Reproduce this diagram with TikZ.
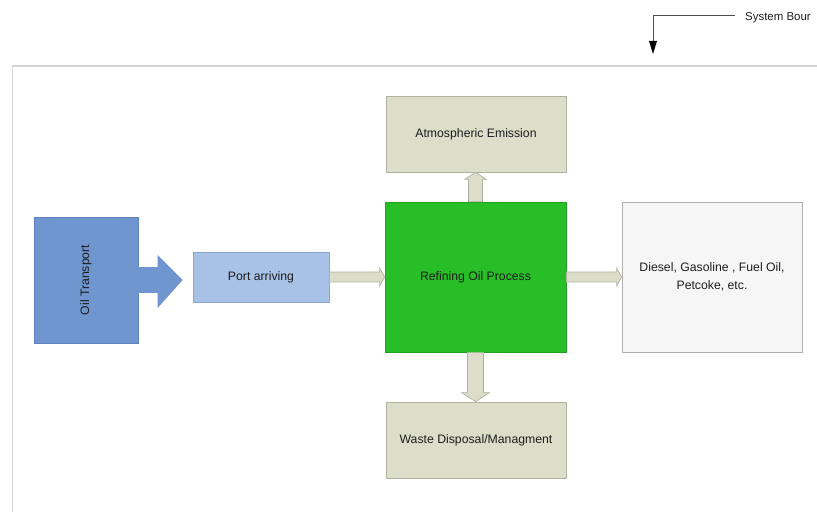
\documentclass[tikz,border=0pt]{standalone}
\usepackage{fontspec}
\setmainfont{Liberation Sans}
\usetikzlibrary{calc}
\definecolor{otblue}{RGB}{112,150,208}
\definecolor{otedge}{RGB}{95,130,190}
\definecolor{paBlue}{RGB}{168,193,230}
\definecolor{paEdge}{RGB}{140,165,205}
\definecolor{refGreen}{RGB}{40,190,40}
\definecolor{beige}{RGB}{220,222,202}
\definecolor{beigeEdge}{RGB}{175,178,160}
\definecolor{prodFill}{RGB}{246,246,246}
\definecolor{prodEdge}{RGB}{175,175,175}
\definecolor{bound}{RGB}{210,210,210}
\definecolor{txt}{RGB}{30,30,30}
\tikzset{
  box/.style={draw, line width=0.8pt, inner sep=2pt, align=center, text=txt, font=\fontsize{12.3}{18}\selectfont},
  flowarrow/.style={fill=beige, draw=beigeEdge, line width=0.7pt, line join=miter},
  bigarrow/.style={fill=otblue, draw=none},
}
\begin{document}
\begin{tikzpicture}[x=1bp,y=-1bp]
\useasboundingbox (0,0) rectangle (817,512);
\clip (0,0) rectangle (817,512);
% system boundary
\draw[bound, line width=2pt] (12.5,530) -- (12.5,66) -- (830,66);
% label
\node[anchor=west, inner sep=0pt, text=txt, font=\fontsize{11.5}{13}\selectfont] (sb) at (745,18) {System Bour};
\coordinate (sbcorner) at (653,15);
\coordinate (sbtip) at (653,54);
\draw[line width=0.8pt, black!70] ($(sb.west)+(-10,-3)$) -- (sbcorner) -- ($(sbtip)+(0,-12)$);
\fill[black] (sbtip) -- ++(-4,-13) -- ++(8,0) -- cycle;
% nodes
\node[box, fill=otblue, draw=otedge, minimum width=104bp, minimum height=126bp] (ot) at (86,280) {};
\node[rotate=90, text=txt, font=\fontsize{12.3}{14.5}\selectfont] at (ot.center) {Oil Transport};
\node[box, fill=paBlue, draw=paEdge, minimum width=136bp, minimum height=50bp] (pa) at (261,277) {Port arriving};
\node[box, fill=refGreen, draw=refGreen!85!black, minimum width=181bp, minimum height=150bp] (ref) at (475.5,277) {Refining Oil Process};
\node[box, fill=beige, draw=beigeEdge, minimum width=180bp, minimum height=76bp] (atm) at (476,134) {Atmospheric Emission};
\node[box, fill=beige, draw=beigeEdge, minimum width=180bp, minimum height=76bp] (wst) at (476,440) {Waste Disposal/Managment};
\node[box, fill=prodFill, draw=prodEdge, minimum width=180bp, minimum height=150bp] (prd) at (712,277) {Diesel, Gasoline , Fuel Oil,\\Petcoke, etc.};
% big arrow oil transport -> port arriving
\path[bigarrow] let \p1=(ot.east), \p2=(pa.west) in
  (\x1-1,\y1-13) -- (\x2-35,\y1-13) -- (\x2-35,\y1-28) -- (\x2-10,\y1) -- (\x2-35,\y1+25) -- (\x2-35,\y1+13) -- (\x1-1,\y1+13) -- cycle;
% port -> refining
\draw[flowarrow] let \p1=(pa.east), \p2=(ref.west) in
  (\x1,\y1-5) -- (\x2-5,\y1-5) -- (\x2-5,\y1-9) -- (\x2,\y1) -- (\x2-5,\y1+9) -- (\x2-5,\y1+5) -- (\x1,\y1+5) -- cycle;
% refining -> products
\draw[flowarrow] let \p1=(ref.east), \p2=(prd.west) in
  (\x1,\y1-5) -- (\x2-5,\y1-5) -- (\x2-5,\y1-9) -- (\x2,\y1) -- (\x2-5,\y1+9) -- (\x2-5,\y1+5) -- (\x1,\y1+5) -- cycle;
% refining -> atmospheric (up); let coordinates are canvas (y up)
\draw[flowarrow] let \p1=(ref.north), \p2=(atm.south) in
  (\x1-7,\y1) -- (\x1-7,\y2-7) -- (\x1-11,\y2-7) -- (\x1,\y2) -- (\x1+11,\y2-7) -- (\x1+7,\y2-7) -- (\x1+7,\y1) -- cycle;
% refining -> waste (down)
\draw[flowarrow] let \p1=(ref.south), \p2=(wst.north) in
  (\x1-8,\y1) -- (\x1-8,\y2+9) -- (\x1-14,\y2+9) -- (\x1,\y2) -- (\x1+14,\y2+9) -- (\x1+8,\y2+9) -- (\x1+8,\y1) -- cycle;
\end{tikzpicture}
\end{document}
